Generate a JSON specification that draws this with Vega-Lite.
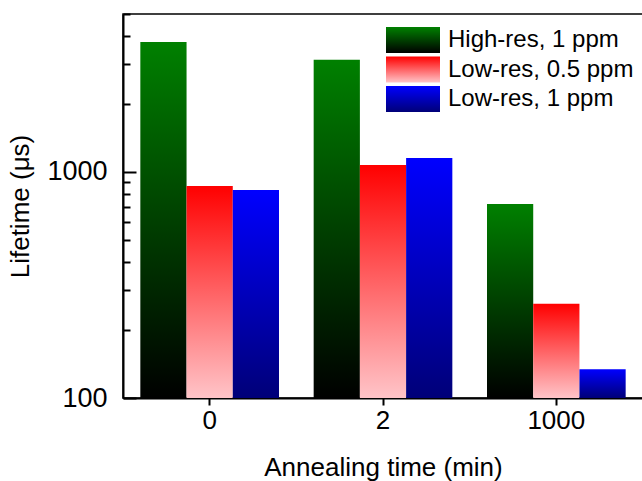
{
  "$schema": "https://vega.github.io/schema/vega-lite/v6.json",
  "width": 520,
  "height": 384,
  "autosize": {"type": "none"},
  "padding": {"left": 123, "top": 14, "right": 0, "bottom": 83},
  "background": "white",
  "config": {
    "font": "Liberation Sans",
    "view": {"stroke": "#000", "strokeWidth": 1.5},
    "axis": {"grid": false, "domainColor": "#000", "domainWidth": 2, "tickColor": "#000", "tickWidth": 2, "labelColor": "#000", "titleColor": "#000", "labelFont": "Liberation Sans", "titleFont": "Liberation Sans", "titleFontWeight": "normal"},
    "legend": {"labelFont": "Liberation Sans"}
  },
  "data": {
    "values": [
      {"time": "0", "series": "High-res, 1 ppm", "lifetime": 3760},
      {"time": "0", "series": "Low-res, 0.5 ppm", "lifetime": 867},
      {"time": "0", "series": "Low-res, 1 ppm", "lifetime": 832},
      {"time": "2", "series": "High-res, 1 ppm", "lifetime": 3135},
      {"time": "2", "series": "Low-res, 0.5 ppm", "lifetime": 1074},
      {"time": "2", "series": "Low-res, 1 ppm", "lifetime": 1153},
      {"time": "1000", "series": "High-res, 1 ppm", "lifetime": 722},
      {"time": "1000", "series": "Low-res, 0.5 ppm", "lifetime": 261},
      {"time": "1000", "series": "Low-res, 1 ppm", "lifetime": 134}
    ]
  },
  "mark": {"type": "bar", "opacity": 1},
  "encoding": {
    "x": {
      "field": "time", "type": "nominal", "sort": ["0", "2", "1000"],
      "scale": {"paddingInner": 0.2, "paddingOuter": 0.1},
      "axis": {"title": "Annealing time (min)", "labelAngle": 0, "labelFontSize": 26, "titleFontSize": 26, "tickSize": 7, "labelPadding": 2, "titlePadding": 21}
    },
    "xOffset": {"field": "series", "type": "nominal", "sort": ["High-res, 1 ppm", "Low-res, 0.5 ppm", "Low-res, 1 ppm"]},
    "y": {
      "field": "lifetime", "type": "quantitative",
      "scale": {"type": "log", "domain": [100, 5000], "nice": false},
      "axis": {
        "title": "Lifetime (μs)",
        "values": [100, 200, 300, 400, 500, 600, 700, 800, 900, 1000, 2000, 3000, 4000, 5000],
        "labelExpr": "datum.value == 100 || datum.value == 1000 ? format(datum.value, 'd') : ''",
        "tickSize": {"condition": {"test": "datum.value == 100 || datum.value == 1000", "value": -13}, "value": -7},
        "labelFontSize": 27, "titleFontSize": 26, "labelPadding": 29, "titlePadding": 13, "labelOverlap": false
      }
    },
    "y2": {"datum": 100},
    "color": {
      "field": "series", "type": "nominal",
      "scale": {
        "domain": ["High-res, 1 ppm", "Low-res, 0.5 ppm", "Low-res, 1 ppm"],
        "range": [
          {"expr": "{gradient: 'linear', x1: 0, y1: 0, x2: 0, y2: 1, stops: [{offset: 0, color: '#008000'}, {offset: 1, color: '#000000'}]}"},
          {"expr": "{gradient: 'linear', x1: 0, y1: 0, x2: 0, y2: 1, stops: [{offset: 0, color: '#ff0000'}, {offset: 1, color: '#ffc4c8'}]}"},
          {"expr": "{gradient: 'linear', x1: 0, y1: 0, x2: 0, y2: 1, stops: [{offset: 0, color: '#0000ff'}, {offset: 1, color: '#000078'}]}"}
        ]
      },
      "legend": {
        "title": null, "orient": "none", "legendX": 276.5, "legendY": 12.5,
        "symbolType": "M-2,-0.96H2V0.96H-2Z", "symbolSize": 729, "symbolStrokeWidth": 0,
        "labelFontSize": 24, "labelColor": "#000", "labelOffset": 21.5, "rowPadding": 2.5, "padding": 0, "labelLimit": 300
      }
    }
  }
}
